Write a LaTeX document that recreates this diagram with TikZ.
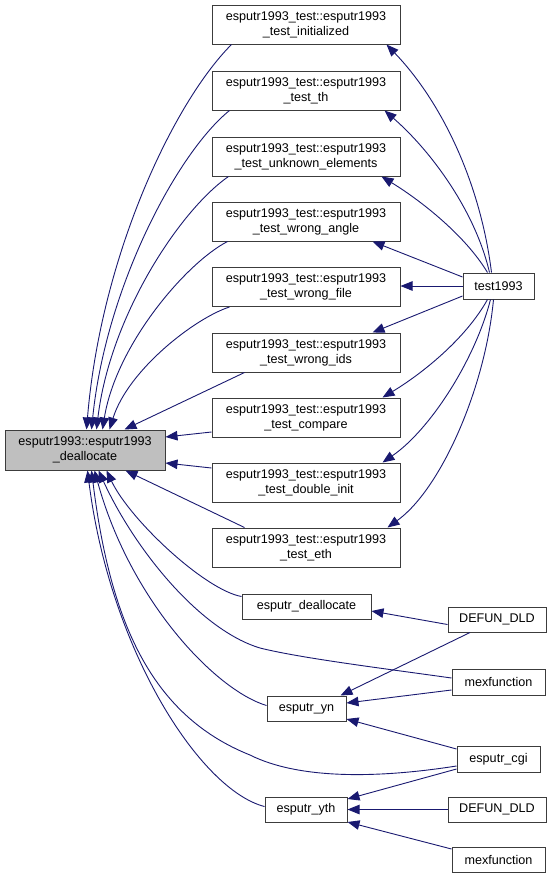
\documentclass[tikz,border=0pt]{standalone}
\usepackage{fontspec}
\setmainfont{Liberation Sans}
\usetikzlibrary{arrows.meta}
\definecolor{edgec}{RGB}{25,25,112}
\definecolor{boxline}{RGB}{60,60,60}
\definecolor{mainfill}{RGB}{191,191,191}
\begin{document}
\begin{tikzpicture}[x=1pt,y=-1pt,
  box/.style={draw=boxline, line width=1pt, fill=white, inner sep=0pt, align=center,
    font=\fontsize{12.6}{15}\selectfont},
  tbox/.style={box, minimum width=188pt, minimum height=39pt},
  sbox/.style={box, minimum height=25pt},
  edge/.style={draw=edgec, line width=0.9pt, -{Triangle[length=12pt,width=9.5pt]}},
]
\useasboundingbox (0,0) rectangle (555,879);

% nodes
\node[box, fill=mainfill, minimum width=160pt, minimum height=40pt] (main) at (85,450) {esputr1993::esputr1993\\\_deallocate};
\node[tbox] (t1) at (306,24.5)  {esputr1993\_test::esputr1993\\\_test\_initialized};
\node[tbox] (t2) at (306,90.5)  {esputr1993\_test::esputr1993\\\_test\_th};
\node[tbox] (t3) at (306,156.5) {esputr1993\_test::esputr1993\\\_test\_unknown\_elements};
\node[tbox] (t4) at (306,221.5) {esputr1993\_test::esputr1993\\\_test\_wrong\_angle};
\node[tbox] (t5) at (306,287)   {esputr1993\_test::esputr1993\\\_test\_wrong\_file};
\node[tbox] (t6) at (306,352.5) {esputr1993\_test::esputr1993\\\_test\_wrong\_ids};
\node[tbox] (t7) at (306,417.5) {esputr1993\_test::esputr1993\\\_test\_compare};
\node[tbox] (t8) at (306,482.5) {esputr1993\_test::esputr1993\\\_test\_double\_init};
\node[tbox] (t9) at (306,547.5) {esputr1993\_test::esputr1993\\\_test\_eth};
\node[sbox, minimum width=71pt, minimum height=26pt] (test) at (498.5,286) {test1993};
\node[sbox, minimum width=129pt] (edl) at (306.5,606.5) {esputr\_deallocate};
\node[sbox, minimum width=98pt] (def1) at (497,619.5) {DEFUN\_DLD};
\node[sbox, minimum width=93pt, minimum height=26pt] (mex1) at (498.5,682) {mexfunction};
\node[sbox, minimum width=79pt] (yn) at (306.5,708.5) {esputr\_yn};
\node[sbox, minimum width=83pt, minimum height=26pt] (cgi) at (498.5,759) {esputr\_cgi};
\node[sbox, minimum width=82pt] (yth) at (306,809.5) {esputr\_yth};
\node[sbox, minimum width=98pt] (def2) at (497,809.5) {DEFUN\_DLD};
\node[sbox, minimum width=93pt] (mex2) at (498.5,859.5) {mexfunction};

% edges to main (top)
\draw[edge] ([xshift=20pt]t1.south west) .. controls (174,102) and (101,255) .. ([xshift=82pt]main.north west);
\draw[edge] ([xshift=18pt]t2.south west) .. controls (178,152) and (106,286) .. ([xshift=87pt]main.north west);
\draw[edge] ([xshift=17pt]t3.south west) .. controls (180,210) and (110,316) .. ([xshift=92pt]main.north west);
\draw[edge] ([xshift=16pt]t4.south west) .. controls (186,263) and (116,345) .. ([xshift=98pt]main.north west);
\draw[edge] ([xshift=18pt]t5.south west) .. controls (195,318) and (128,370) .. ([xshift=105pt]main.north west);
\draw[edge] ([xshift=33pt]t6.south west) -- ([xshift=120pt]main.north west);
\draw[edge] ([yshift=-14.5pt]t7.west) -- ([yshift=13pt]main.east);
\draw[edge] ([yshift=14.5pt]t8.west) -- ([yshift=-13pt]main.east);
% edges to main (bottom)
\draw[edge] ([xshift=33pt]t9.north west) -- ([xshift=121pt]main.south west);
\draw[edge] ([yshift=10pt]edl.west) .. controls (205,590) and (130,520) .. ([xshift=102pt]main.south west);
\draw[edge] ([yshift=4pt]mex1.west) .. controls (380,668) and (300,658) .. (260,648) .. controls (200,630) and (135,550) .. ([xshift=94pt]main.south west);
\draw[edge] ([yshift=3pt]yn.west) .. controls (215,690) and (130,600) .. ([xshift=90pt]main.south west);
\draw[edge] ([yshift=-7pt]cgi.west) .. controls (380,778) and (300,780) .. (250,755) .. controls (150,715) and (110,620) .. ([xshift=87pt]main.south west);
\draw[edge] ([yshift=3pt]yth.west) .. controls (200,790) and (110,650) .. ([xshift=83pt]main.south west);

% edges from test1993
\draw[edge] ([xshift=-7pt]test.north) .. controls (480,180) and (440,100) .. ([xshift=-14pt]t1.south east);
\draw[edge] ([xshift=-9pt]test.north) .. controls (475,210) and (430,150) .. ([xshift=-16pt]t2.south east);
\draw[edge] ([xshift=-11pt]test.north) .. controls (465,235) and (420,200) .. ([xshift=-19pt]t3.south east);
\draw[edge] ([yshift=9pt]test.west) -- ([xshift=-28pt]t4.south east);
\draw[edge] (test.west) -- (t5.east |- test.west);
\draw[edge] ([yshift=-10pt]test.west) -- ([xshift=-28pt]t6.north east);
\draw[edge] ([xshift=-11pt]test.south) .. controls (465,340) and (420,375) .. ([xshift=-18pt]t7.north east);
\draw[edge] ([xshift=-8pt]test.south) .. controls (475,360) and (430,430) .. ([xshift=-18pt]t8.north east);
\draw[edge] ([xshift=-5pt]test.south) .. controls (485,390) and (440,490) .. ([xshift=-13pt]t9.north east);

% bottom group
\draw[edge] ([yshift=-5pt]def1.west) -- ([yshift=-4.5pt]edl.east);
\draw[edge] ([xshift=-27pt]def1.south) -- ([xshift=-6pt]yn.north east);
\draw[edge] ([yshift=-8pt]mex1.west) -- ([yshift=5.5pt]yn.east);
\draw[edge] ([yshift=10pt]cgi.west) -- ([yshift=-10.5pt]yn.east);
\draw[edge] ([yshift=-10pt]cgi.west) -- ([yshift=10.5pt]yth.east);
\draw[edge] (def2.west) -- (yth.east);
\draw[edge] ([yshift=10.5pt]mex2.west) -- ([yshift=-12.5pt]yth.east);
\end{tikzpicture}
\end{document}
